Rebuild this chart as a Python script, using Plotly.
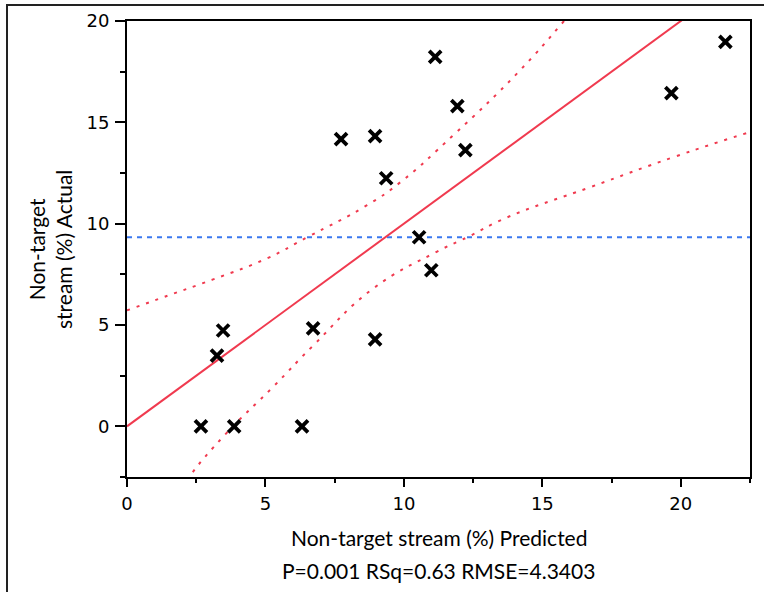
import plotly.graph_objects as go

# Data
predicted = [2.67, 3.87, 6.32, 3.25, 3.47, 6.72, 8.96, 7.73, 8.96, 9.36, 10.55, 10.99, 11.13, 11.93, 12.22, 19.66, 21.61]
actual = [0.0, 0.0, 0.0, 3.49, 4.73, 4.83, 4.29, 14.17, 14.32, 12.24, 9.33, 7.70, 18.23, 15.80, 13.63, 16.44, 18.97]

fit_x = [0.0, 22.5]
fit_y = [0.0, 22.5]

upper_x = [0.0, 1.19, 3.11, 5.06, 6.51, 8.67, 9.87, 11.78, 14.10, 15.72, 16.2]
upper_y = [5.72, 6.31, 7.25, 8.29, 9.33, 10.91, 12.04, 14.36, 17.43, 19.9, 20.7]

lower_x = [2.0, 2.28, 3.61, 5.28, 6.72, 8.89, 11.2, 12.29, 13.73, 16.73, 19.73, 22.26, 22.5]
lower_y = [-3.1, -2.44, -0.31, 1.95, 3.98, 6.80, 8.62, 9.33, 10.31, 11.80, 13.28, 14.42, 14.52]

mean_actual = 9.33
x_range = [0, 22.5]
y_range = [-2.5, 20]
x_ticks = [0, 5, 10, 15, 20]
y_ticks = [0, 5, 10, 15, 20]

RED = "#F03A4F"
BLUE = "#3A78F0"

fig = go.Figure()
fig.add_trace(go.Scatter(x=x_range, y=[mean_actual, mean_actual], mode="lines",
                         line=dict(color=BLUE, width=2, dash="5px,5px"), hoverinfo="skip"))
fig.add_trace(go.Scatter(x=upper_x, y=upper_y, mode="lines", line_shape="spline",
                         line=dict(color=RED, width=2, dash="3px,7px", smoothing=1.3),
                         hoverinfo="skip"))
fig.add_trace(go.Scatter(x=lower_x, y=lower_y, mode="lines", line_shape="spline",
                         line=dict(color=RED, width=2, dash="3px,7px", smoothing=1.3),
                         hoverinfo="skip"))
fig.add_trace(go.Scatter(x=fit_x, y=fit_y, mode="lines",
                         line=dict(color=RED, width=2), hoverinfo="skip"))
fig.add_trace(go.Scatter(x=predicted, y=actual, mode="markers",
                         marker=dict(symbol="x-thin", size=12, color="black",
                                     line=dict(color="black", width=3.8))))

W, H = 764, 592
L, R, T, B = 127, 14, 21, 115
pw, ph = W - L - R, H - T - B

fig.update_layout(
    width=W, height=H,
    margin=dict(l=L, r=R, t=T, b=B, autoexpand=False),
    paper_bgcolor="white", plot_bgcolor="white",
    showlegend=False,
    font=dict(family="DejaVu Sans", color="black"),
    xaxis=dict(range=x_range, tickvals=x_ticks, ticks="outside", ticklen=8, tickwidth=2,
               tickcolor="black", showline=True, linecolor="black", linewidth=2, mirror=True,
               showgrid=False, zeroline=False, tickfont=dict(size=18, family="DejaVu Sans"),
               ticklabelstandoff=1, automargin=False,
               minor=dict(dtick=2.5, tick0=0, ticks="outside", ticklen=4, tickwidth=2,
                          tickcolor="black", showgrid=False)),
    yaxis=dict(range=y_range, tickvals=y_ticks, ticks="outside", ticklen=10, tickwidth=2,
               tickcolor="black", showline=True, linecolor="black", linewidth=2, mirror=True,
               showgrid=False, zeroline=False, tickfont=dict(size=18, family="DejaVu Sans"),
               ticklabelstandoff=2, automargin=False,
               minor=dict(dtick=2.5, tick0=0, ticks="outside", ticklen=5, tickwidth=2,
                          tickcolor="black", showgrid=False)),
    shapes=[dict(type="rect", xref="paper", yref="paper",
                 x0=(7 - L) / pw, x1=1.2, y0=-0.5, y1=1 + (T - 5) / ph,
                 line=dict(color="#222222", width=2), fillcolor="rgba(0,0,0,0)", layer="below")],
    annotations=[
        dict(text="Non-target stream (%) Predicted", xref="paper", yref="paper",
             x=0.5, y=-(537 - (T + ph)) / ph, xanchor="center", yanchor="middle",
             showarrow=False, font=dict(size=21, family="Lato")),
        dict(text="P=0.001 RSq=0.63 RMSE=4.3403", xref="paper", yref="paper",
             x=0.5, y=-(570 - (T + ph)) / ph, xanchor="center", yanchor="middle",
             showarrow=False, font=dict(size=21, family="Lato")),
        dict(text="Non-target<br>stream (%) Actual", xref="paper", yref="paper",
             x=(50 - L) / pw, y=1 - (250 - T) / ph, xanchor="center", yanchor="middle",
             textangle=-90, showarrow=False, font=dict(size=21, family="Lato")),
    ],
)

fig.write_html("out.html", config={"displayModeBar": False},
               post_script="document.body.style.margin='0';")
